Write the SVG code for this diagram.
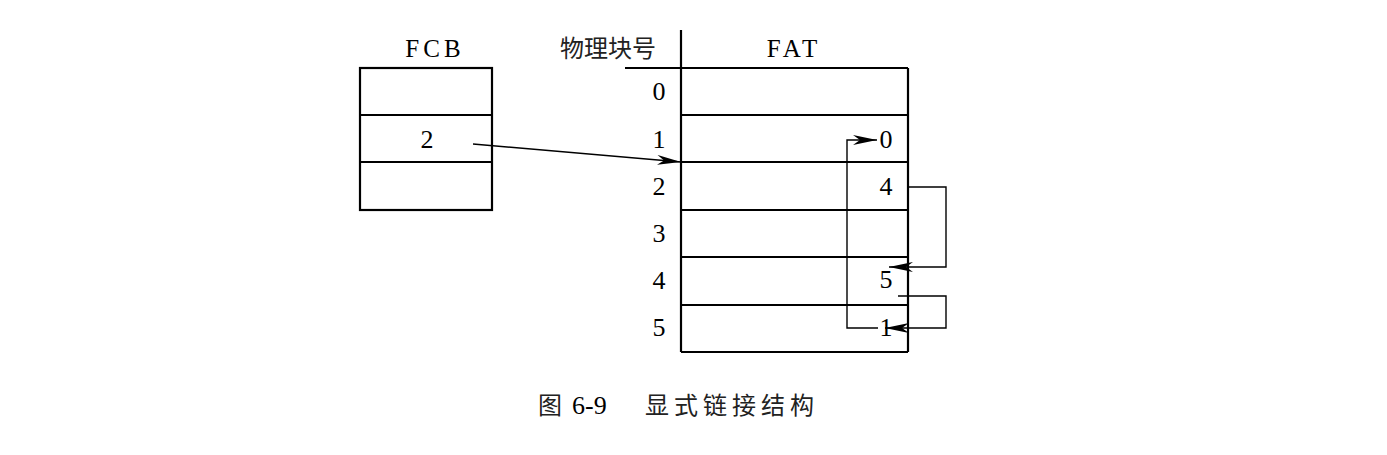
<svg xmlns="http://www.w3.org/2000/svg" width="1387" height="455" viewBox="0 0 1387 455">
<style>
.t{font-family:"Liberation Serif","Times New Roman",serif;font-size:26px;fill:#000}
.h{font-family:"Liberation Serif","Times New Roman",serif;font-size:25px;letter-spacing:4px;fill:#000}
.c{font-family:"Noto Sans CJK SC","Noto Sans CJK JP",sans-serif;font-size:24px;fill:#222}
.box{fill:none;stroke:#000;stroke-width:2.2}
.ln{fill:none;stroke:#000;stroke-width:1.4}
</style>
<defs>
<marker id="ah" markerUnits="userSpaceOnUse" markerWidth="24" markerHeight="12" refX="24" refY="5" orient="auto">
<path d="M0,0 L24,5 L0,10 L7,5 z" fill="#000"/>
</marker>
</defs>
<rect width="1387" height="455" fill="#fff"/>
<g id="fcb">
<text class="h" x="435" y="57" text-anchor="middle">FCB</text>
<rect class="box" x="360" y="68" width="132" height="142"/>
<line class="box" x1="360" y1="115" x2="492" y2="115"/>
<line class="box" x1="360" y1="162" x2="492" y2="162"/>
<text class="t" x="427" y="148" text-anchor="middle">2</text>
</g>
<g id="fat">
<text class="c" x="560" y="57">物理块号</text>
<text class="h" x="794" y="57" text-anchor="middle">FAT</text>
<line class="box" x1="681" y1="30" x2="681" y2="352"/>
<line class="box" x1="625" y1="68" x2="908" y2="68"/>
<line class="box" x1="908" y1="68" x2="908" y2="352"/>
<line class="box" x1="681" y1="352" x2="908" y2="352"/>
<line class="box" x1="681" y1="115" x2="908" y2="115"/>
<line class="box" x1="681" y1="162" x2="908" y2="162"/>
<line class="box" x1="681" y1="210" x2="908" y2="210"/>
<line class="box" x1="681" y1="257" x2="908" y2="257"/>
<line class="box" x1="681" y1="305" x2="908" y2="305"/>
<text class="t" x="659" y="100" text-anchor="middle">0</text>
<text class="t" x="659" y="148" text-anchor="middle">1</text>
<text class="t" x="659" y="195" text-anchor="middle">2</text>
<text class="t" x="659" y="242" text-anchor="middle">3</text>
<text class="t" x="659" y="289" text-anchor="middle">4</text>
<text class="t" x="659" y="336" text-anchor="middle">5</text>
<text class="t" x="886" y="148" text-anchor="middle">0</text>
<text class="t" x="886" y="195" text-anchor="middle">4</text>
<text class="t" x="886" y="288" text-anchor="middle">5</text>
<text class="t" x="886" y="336" text-anchor="middle">1</text>
</g>
<g id="connectors">
<path class="ln" d="M473,144 L681,162" marker-end="url(#ah)"/>
<path class="ln" d="M878,328 L847,328 L847,140 L877,140" marker-end="url(#ah)"/>
<path class="ln" d="M908,187 L946,187 L946,267 L889,267" marker-end="url(#ah)"/>
<path class="ln" d="M898,296 L946,296 L946,328 L885,328" marker-end="url(#ah)"/>
</g>
<g id="caption">
<text class="c" x="538" y="414">图</text>
<text class="t" x="572" y="414" font-size="24">6-9</text>
<text class="c" x="645" y="414" letter-spacing="5">显式链接结构</text>
</g>
</svg>
